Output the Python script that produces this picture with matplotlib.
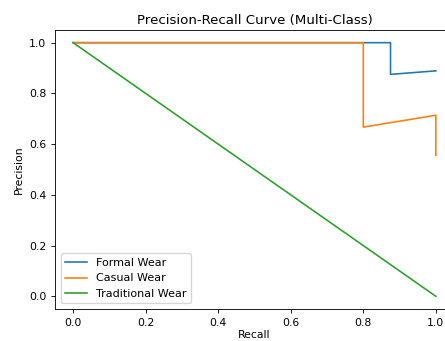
import matplotlib
matplotlib.use("Agg")
from matplotlib import pyplot as plt

# precision / recall points per class
formal_recall = [1.0, 0.875, 0.875, 0.0]
formal_precision = [0.889, 0.875, 1.0, 1.0]

casual_recall = [1.0, 1.0, 0.8, 0.8, 0.0]
casual_precision = [0.556, 0.714, 0.667, 1.0, 1.0]

traditional_recall = [1.0, 0.0]
traditional_precision = [0.0, 1.0]

labels = ["Formal Wear", "Casual Wear", "Traditional Wear"]

s = 0.78
plt.rcParams['font.size'] = 10 * s
plt.rcParams['lines.linewidth'] = 1.5 * s
plt.rcParams['axes.linewidth'] = 0.8 * s
plt.rcParams['xtick.major.width'] = 0.8 * s
plt.rcParams['ytick.major.width'] = 0.8 * s
plt.rcParams['xtick.major.size'] = 3.5 * s
plt.rcParams['ytick.major.size'] = 3.5 * s

fig = plt.figure(figsize=(4.45, 3.41), dpi=100)
ax = fig.add_axes([55 / 445, 32 / 341, 399 / 445, 279 / 341])

ax.plot(formal_recall, formal_precision, label=labels[0])
ax.plot(casual_recall, casual_precision, label=labels[1])
ax.plot(traditional_recall, traditional_precision, label=labels[2])

ax.set_title("Precision-Recall Curve (Multi-Class)", fontsize=9.6, pad=4.5)
ax.set_xlabel("Recall", labelpad=1.5)
ax.set_ylabel("Precision")
ax.legend(loc="lower left", fontsize=8)

plt.savefig("out.png", dpi=100)
plt.close()
